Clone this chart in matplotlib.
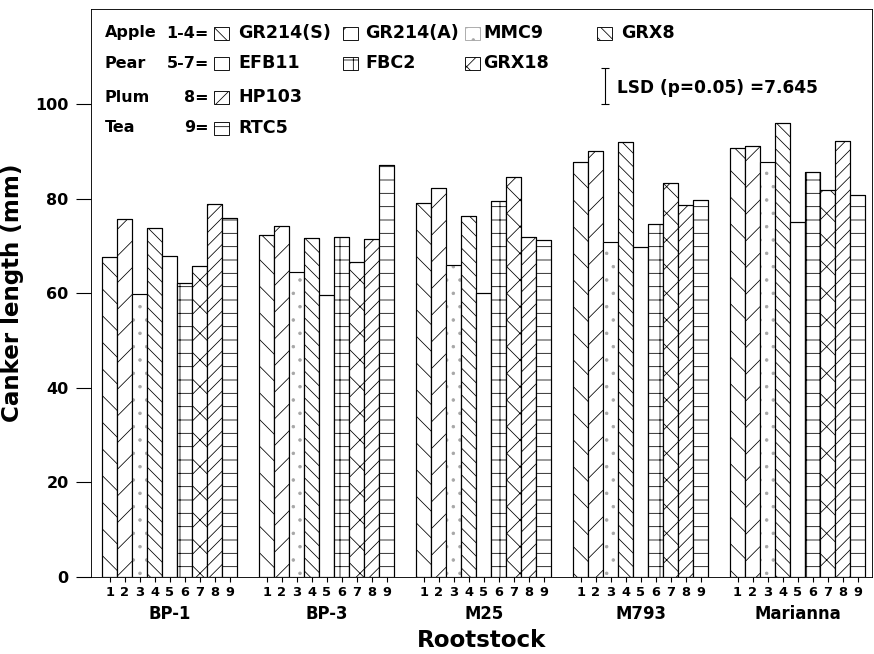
import matplotlib
matplotlib.use('Agg')
import matplotlib.pyplot as plt
from matplotlib.patches import Rectangle
import numpy as np

# data
rootstocks = ['BP-1', 'BP-3', 'M25', 'M793', 'Marianna']
isolates = ['GR214(S)', 'GR214(A)', 'MMC9', 'GRX8', 'EFB11', 'FBC2', 'GRX18', 'HP103', 'RTC5']
bar_labels = ['1', '2', '3', '4', '5', '6', '7', '8', '9']

canker_bp1 = [67.7, 75.7, 59.8, 73.7, 67.9, 62.1, 65.7, 78.8, 76.0]
canker_bp3 = [72.3, 74.2, 64.4, 71.6, 59.6, 71.9, 66.7, 71.5, 87.0]
canker_m25 = [79.0, 82.3, 66.0, 76.4, 60.1, 79.5, 84.6, 71.9, 71.2]
canker_m793 = [87.8, 90.1, 70.9, 92.0, 69.8, 74.6, 83.2, 78.6, 79.8]
canker_marianna = [90.6, 91.2, 87.8, 95.9, 75.1, 85.6, 81.8, 92.2, 80.8]
lsd = 7.645

hatches = ['\\', '/', '.', '\\\\', '', '+', 'x', '//', '-']
# MMC9 is a faint dotted fill in the original
hatch_cols = ['black', 'black', '0.65', 'black', 'black', 'black', 'black', 'black', 'black']

W, H = 874, 654
DPI = 80

def fx(x):
	return x / W

def fy(y):
	return 1 - y / H

def pt(px):
	return px * 72 / DPI

plt.rcParams['font.family'] = 'DejaVu Sans'
plt.rcParams['font.weight'] = 'bold'
plt.rcParams['hatch.linewidth'] = 0.7

fig = plt.figure(figsize=(W / DPI, H / DPI), dpi=DPI)
ax = fig.add_axes([fx(90.7), fy(577), (872 - 90.7) / W, (577 - 9.4) / H])

data = [canker_bp1, canker_bp3, canker_m25, canker_m793, canker_marianna]
gap = 10.46
centers = []
for g in range(len(rootstocks)):
	x = g * gap + np.arange(9)
	for i in range(9):
		ax.bar(x[i], data[g][i], width=1, align='edge', color='white',
			edgecolor=hatch_cols[i], linewidth=1.0, hatch=hatches[i])
		# black outline on top
		ax.bar(x[i], data[g][i], width=1, align='edge', fill=False,
			edgecolor='black', linewidth=1.0)
	centers.extend(list(x + 0.5))
	ax.text(g * gap + 4.5, -0.065, rootstocks[g], transform=ax.get_xaxis_transform(),
		ha='center', va='center', fontsize=pt(16.5), fontweight='bold')

ax.set_xticks(centers)
ax.set_xticklabels(bar_labels * len(rootstocks), fontsize=pt(13), fontweight='bold')
ax.tick_params(axis='x', length=pt(5), width=1, pad=pt(4))
ax.set_yticks([0, 20, 40, 60, 80, 100])
ax.tick_params(axis='y', length=pt(15), width=1, pad=pt(7), labelsize=pt(16))
for lab in ax.get_yticklabels():
	lab.set_fontweight('bold')

ax.set_xlim(-0.77, 51.3)
ax.set_ylim(0, 120)
ax.set_ylabel('Canker length (mm)', fontsize=pt(23), fontweight='bold', labelpad=pt(11))
ax.set_xlabel('Rootstock', fontsize=pt(23), fontweight='bold', labelpad=pt(30))

# LSD bar
ax.errorbar(33.5, 100 + lsd / 2, yerr=lsd / 2, color='black', capsize=pt(4), elinewidth=1, capthick=1)
fig.text(fx(617), fy(88), 'LSD (p=0.05) =7.645', ha='left', va='center',
	fontsize=pt(17), fontweight='bold')

# legend built by hand
rows = [('Apple', '1-4=', [0, 1, 2, 3], 33),
	('Pear', '5-7=', [4, 5, 6], 63),
	('Plum', '8=', [7], 97),
	('Tea', '9=', [8], 128)]
box_x = [214, 343, 465, 597]
name_x = [238, 365, 483, 621]
for name, nums, idx, y in rows:
	fig.text(fx(105), fy(y), name, ha='left', va='center', fontsize=pt(16), fontweight='bold')
	fig.text(fx(209), fy(y), nums, ha='right', va='center', fontsize=pt(16), fontweight='bold')
	for c, k in enumerate(idx):
		fig.add_artist(Rectangle((fx(box_x[c]), fy(y + 6.5)), 15 / W, 13 / H,
			transform=fig.transFigure, facecolor='white', edgecolor=hatch_cols[k],
			linewidth=0.8, hatch=hatches[k]))
		fig.text(fx(name_x[c]), fy(y), isolates[k], ha='left', va='center',
			fontsize=pt(17.5), fontweight='bold')

fig.savefig('out.png', dpi=DPI)
